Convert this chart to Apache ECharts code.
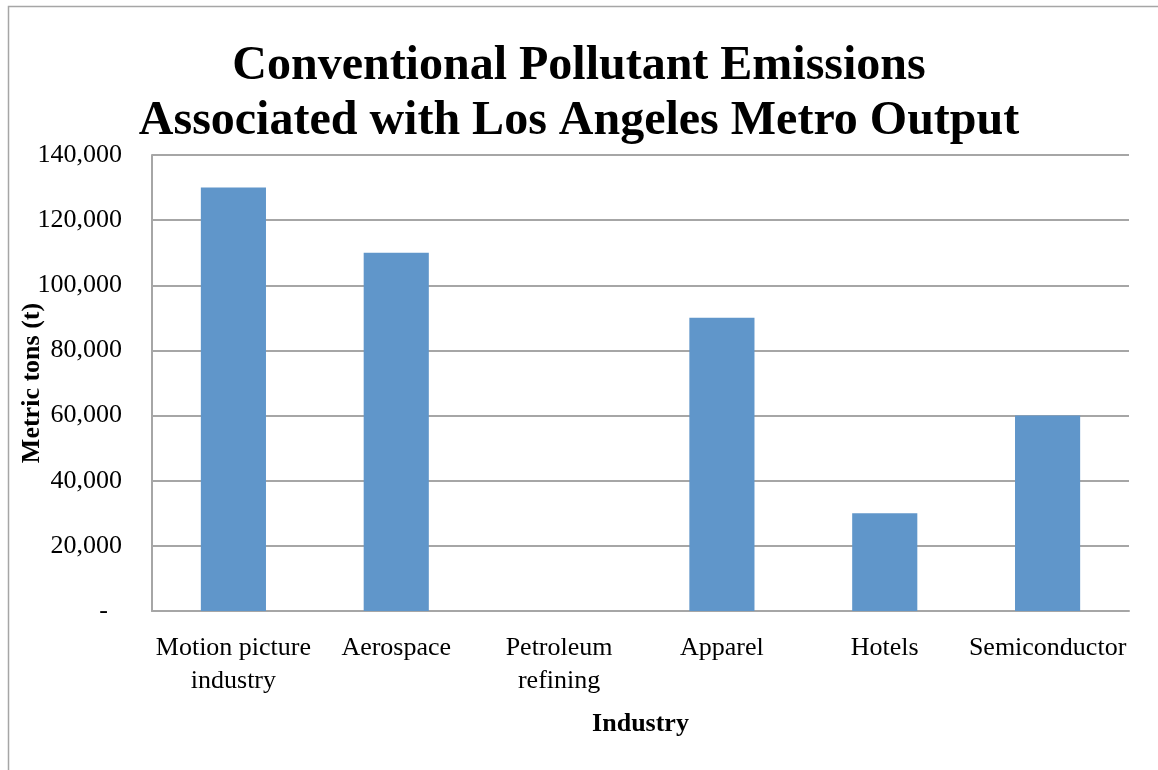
<!DOCTYPE html>
<html>
<head>
<meta charset="utf-8">
<script src="https://cdn.jsdelivr.net/npm/echarts@6/dist/echarts.min.js"></script>
<style>
  html, body { margin: 0; padding: 0; background: #fff; }
  #chart { width: 1158px; height: 770px; }
</style>
</head>
<body>
<div id="chart"></div>
<script>
// 数据
var industries = ['Motion picture\nindustry', 'Aerospace', 'Petroleum\nrefining', 'Apparel', 'Hotels', 'Semiconductor'];
var emissions = [130000, 110000, 0, 90000, 30000, 60000];
var yTicks = { min: 0, max: 140000, step: 20000 };

var serif = '"Liberation Serif", "Times New Roman", serif';
var gray = '#a6a6a6';

var myChart = echarts.init(document.getElementById('chart'));
myChart.setOption({
  animation: false,
  // 外边框
  graphic: [{
    type: 'rect',
    shape: { x: 8.5, y: 6.5, width: 1300, height: 900 },
    style: { fill: 'none', stroke: gray, lineWidth: 1.5 }
  }],
  title: {
    text: 'Conventional Pollutant Emissions\nAssociated with Los Angeles Metro Output',
    left: 'center',
    top: 34,
    textStyle: {
      fontFamily: serif,
      fontSize: 48,
      fontWeight: 'bold',
      color: '#000',
      lineHeight: 55
    }
  },
  grid: { left: 152, top: 155, right: 29, bottom: 159, outerBoundsMode: 'none', containLabel: false },
  xAxis: {
    type: 'category',
    data: industries,
    name: 'Industry',
    nameLocation: 'middle',
    nameGap: 100,
    nameMoveOverlap: false,
    nameTextStyle: { fontFamily: serif, fontSize: 26, fontWeight: 'bold', color: '#000' },
    axisLine: { lineStyle: { color: gray, width: 2 } },
    axisTick: { show: false },
    axisLabel: {
      fontFamily: serif, fontSize: 26, color: '#000', lineHeight: 33, margin: 21, interval: 0
    }
  },
  yAxis: {
    type: 'value',
    min: yTicks.min,
    max: yTicks.max,
    interval: yTicks.step,
    name: 'Metric tons (t)',
    nameLocation: 'middle',
    nameGap: 107,
    nameMoveOverlap: false,
    nameTextStyle: { fontFamily: serif, fontSize: 26, fontWeight: 'bold', color: '#000' },
    axisLine: { show: true, lineStyle: { color: gray, width: 2 } },
    axisTick: { show: false },
    splitLine: { lineStyle: { color: gray, width: 2 } },
    axisLabel: {
      fontFamily: serif, fontSize: 26, color: '#000', margin: 30,
      formatter: function (v) {
        if (v === 0) return '{d|-}';
        return v.toString().replace(/\B(?=(\d{3})+(?!\d))/g, ',');
      },
      rich: { d: { fontFamily: serif, fontSize: 26, color: '#000', padding: [0, 14, 0, 0] } }
    }
  },
  series: [{
    type: 'bar',
    data: emissions,
    barWidth: '40%',
    itemStyle: { color: '#6096ca' }
  }]
});
</script>
</body>
</html>
